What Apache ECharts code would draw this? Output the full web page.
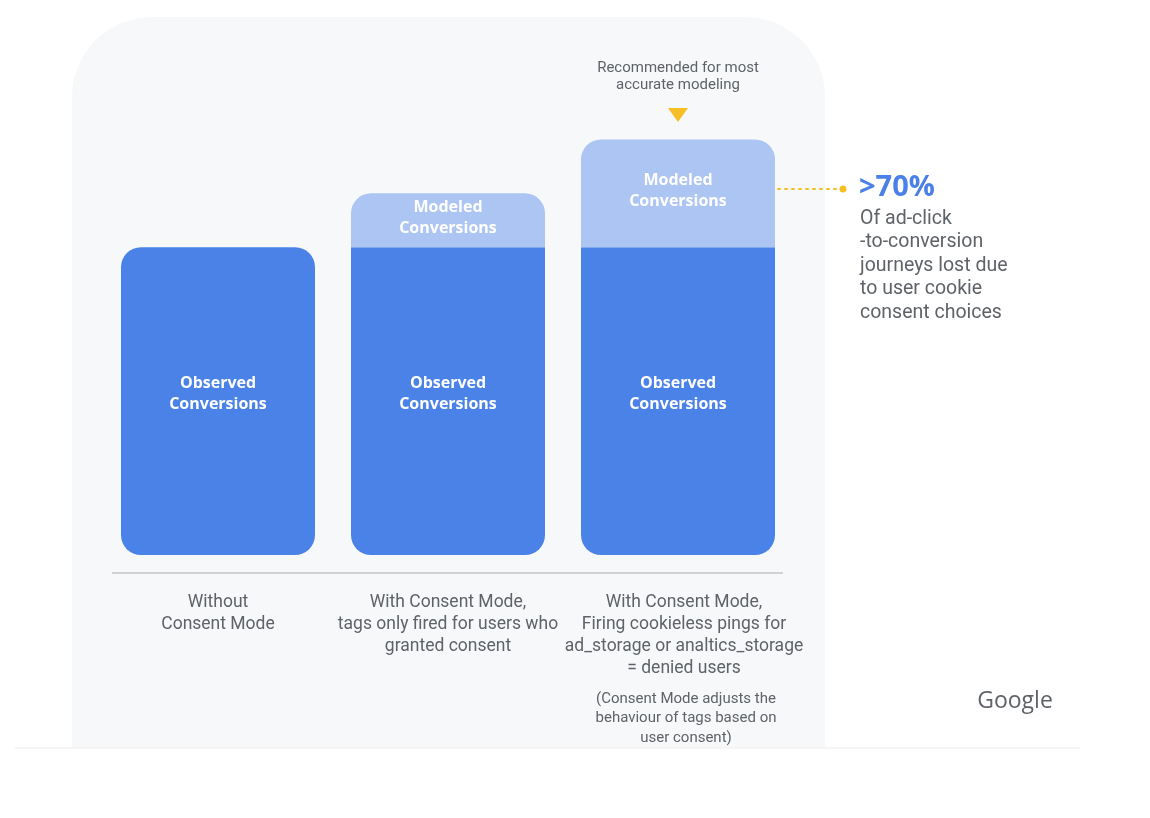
<!doctype html>
<html>
<head>
<meta charset="utf-8">
<title>Consent Mode conversions</title>
<script src="https://cdn.jsdelivr.net/npm/echarts@6/dist/echarts.min.js"></script>
<style>
    html, body { margin: 0; background: #ffffff; }
    #main { width: 1150px; height: 818px; }
</style>
</head>
<body>
<div id="main"></div>
<script>
// data
var categories = [
    'Without\nConsent Mode',
    'With Consent Mode,\ntags only fired for users who\ngranted consent',
    'With Consent Mode,\nFiring cookieless pings for\nad_storage or analtics_storage\n= denied users'
];
var observed = [100, 100, 100];
var modeled = [0, 17.5, 35];
var observedLabel = 'Observed\nConversions';
var modeledLabel = 'Modeled\nConversions';

var textGrey = '#5f6368';
var blue = '#4a82e8';
var lightBlue = '#adc5f3';
var yellow = '#f6bf26';

var chart = echarts.init(document.getElementById('main'));

var observedData = observed.map(function (v, i) {
    var r = modeled[i] > 0 ? [0, 0, 20, 20] : [20, 20, 20, 20];
    return { value: v, itemStyle: { borderRadius: r } };
});

// third label sits a little right of its bar in the original
var categoryData = categories.map(function (c, i) {
    return i === 2 ? { value: c, textStyle: { padding: [0, 0, 0, 12] } } : c;
});

var barLabel = {
    show: true,
    position: 'inside',
    color: '#ffffff',
    fontFamily: 'Open Sans',
    fontWeight: 'bold',
    fontSize: 16,
    lineHeight: 21
};

var option = {
    backgroundColor: '#ffffff',
    animation: false,
    grid: { left: 103, right: 357, top: 124, bottom: 263, containLabel: false },
    xAxis: {
        type: 'category',
        data: categoryData,
        axisLine: { show: false },
        axisTick: { show: false },
        axisLabel: {
            interval: 0,
            margin: 37,
            color: textGrey,
            fontFamily: 'Roboto',
            fontSize: 17.5,
            lineHeight: 22
        }
    },
    yAxis: {
        type: 'value',
        min: 0,
        max: 140,
        show: false,
        splitLine: { show: false }
    },
    series: [
        {
            type: 'bar',
            name: 'Observed',
            stack: 'conv',
            barWidth: 194,
            data: observedData,
            itemStyle: { color: blue },
            label: Object.assign({}, barLabel, {
                offset: [0, -7],
                formatter: observedLabel
            })
        },
        {
            type: 'bar',
            name: 'Modeled',
            stack: 'conv',
            barWidth: 194,
            data: modeled,
            itemStyle: { color: lightBlue, borderRadius: [20, 20, 0, 0] },
            label: Object.assign({}, barLabel, {
                offset: [0, -2],
                formatter: function (p) { return p.value > 0 ? modeledLabel : ''; }
            })
        }
    ],
    graphic: [
        {
            type: 'rect',
            z: -10,
            shape: { x: 72, y: 17, width: 753, height: 731, r: [80, 80, 0, 0] },
            style: { fill: '#f7f8fa' }
        },
        {
            type: 'line',
            z: -9,
            shape: { x1: 15, y1: 748, x2: 1080, y2: 748 },
            style: { stroke: '#f5f5f5', lineWidth: 2 }
        },
        {
            type: 'line',
            shape: { x1: 112, y1: 573, x2: 783, y2: 573 },
            style: { stroke: '#c6c6c6', lineWidth: 1.5 }
        },
        {
            type: 'text',
            x: 678, y: 60,
            style: {
                text: 'Recommended for most\naccurate modeling',
                fill: textGrey, font: '15px Roboto', lineHeight: 17,
                align: 'center', verticalAlign: 'top'
            }
        },
        {
            type: 'polygon',
            shape: { points: [[668, 108], [688, 108], [678, 122]] },
            style: { fill: yellow }
        },
        {
            type: 'line',
            shape: { x1: 771, y1: 189, x2: 843, y2: 189 },
            style: { stroke: yellow, lineWidth: 2, lineDash: [2, 5], lineCap: 'round' }
        },
        { type: 'circle', shape: { cx: 771, cy: 189, r: 3.5 }, style: { fill: yellow } },
        { type: 'circle', shape: { cx: 843, cy: 189, r: 3.5 }, style: { fill: yellow } },
        {
            type: 'text',
            x: 859, y: 188,
            style: {
                text: '>70%', fill: '#4a80e8', font: 'bold 29px "Open Sans"',
                align: 'left', verticalAlign: 'middle'
            }
        },
        {
            type: 'text',
            x: 860, y: 207,
            style: {
                text: 'Of ad-click\n-to-conversion\njourneys lost due\nto user cookie\nconsent choices',
                fill: textGrey, font: '19.5px Roboto', lineHeight: 23.5,
                align: 'left', verticalAlign: 'top'
            }
        },
        {
            type: 'text',
            x: 686, y: 689,
            style: {
                text: '(Consent Mode adjusts the\nbehaviour of tags based on\nuser consent)',
                fill: textGrey, font: '15px Roboto', lineHeight: 19.5,
                align: 'center', verticalAlign: 'top'
            }
        },
        {
            type: 'text',
            x: 1015, y: 701,
            style: {
                text: 'Google', fill: '#5f6368', font: '23px "Open Sans"',
                align: 'center', verticalAlign: 'middle'
            }
        }
    ]
};

chart.setOption(option);
</script>
</body>
</html>
